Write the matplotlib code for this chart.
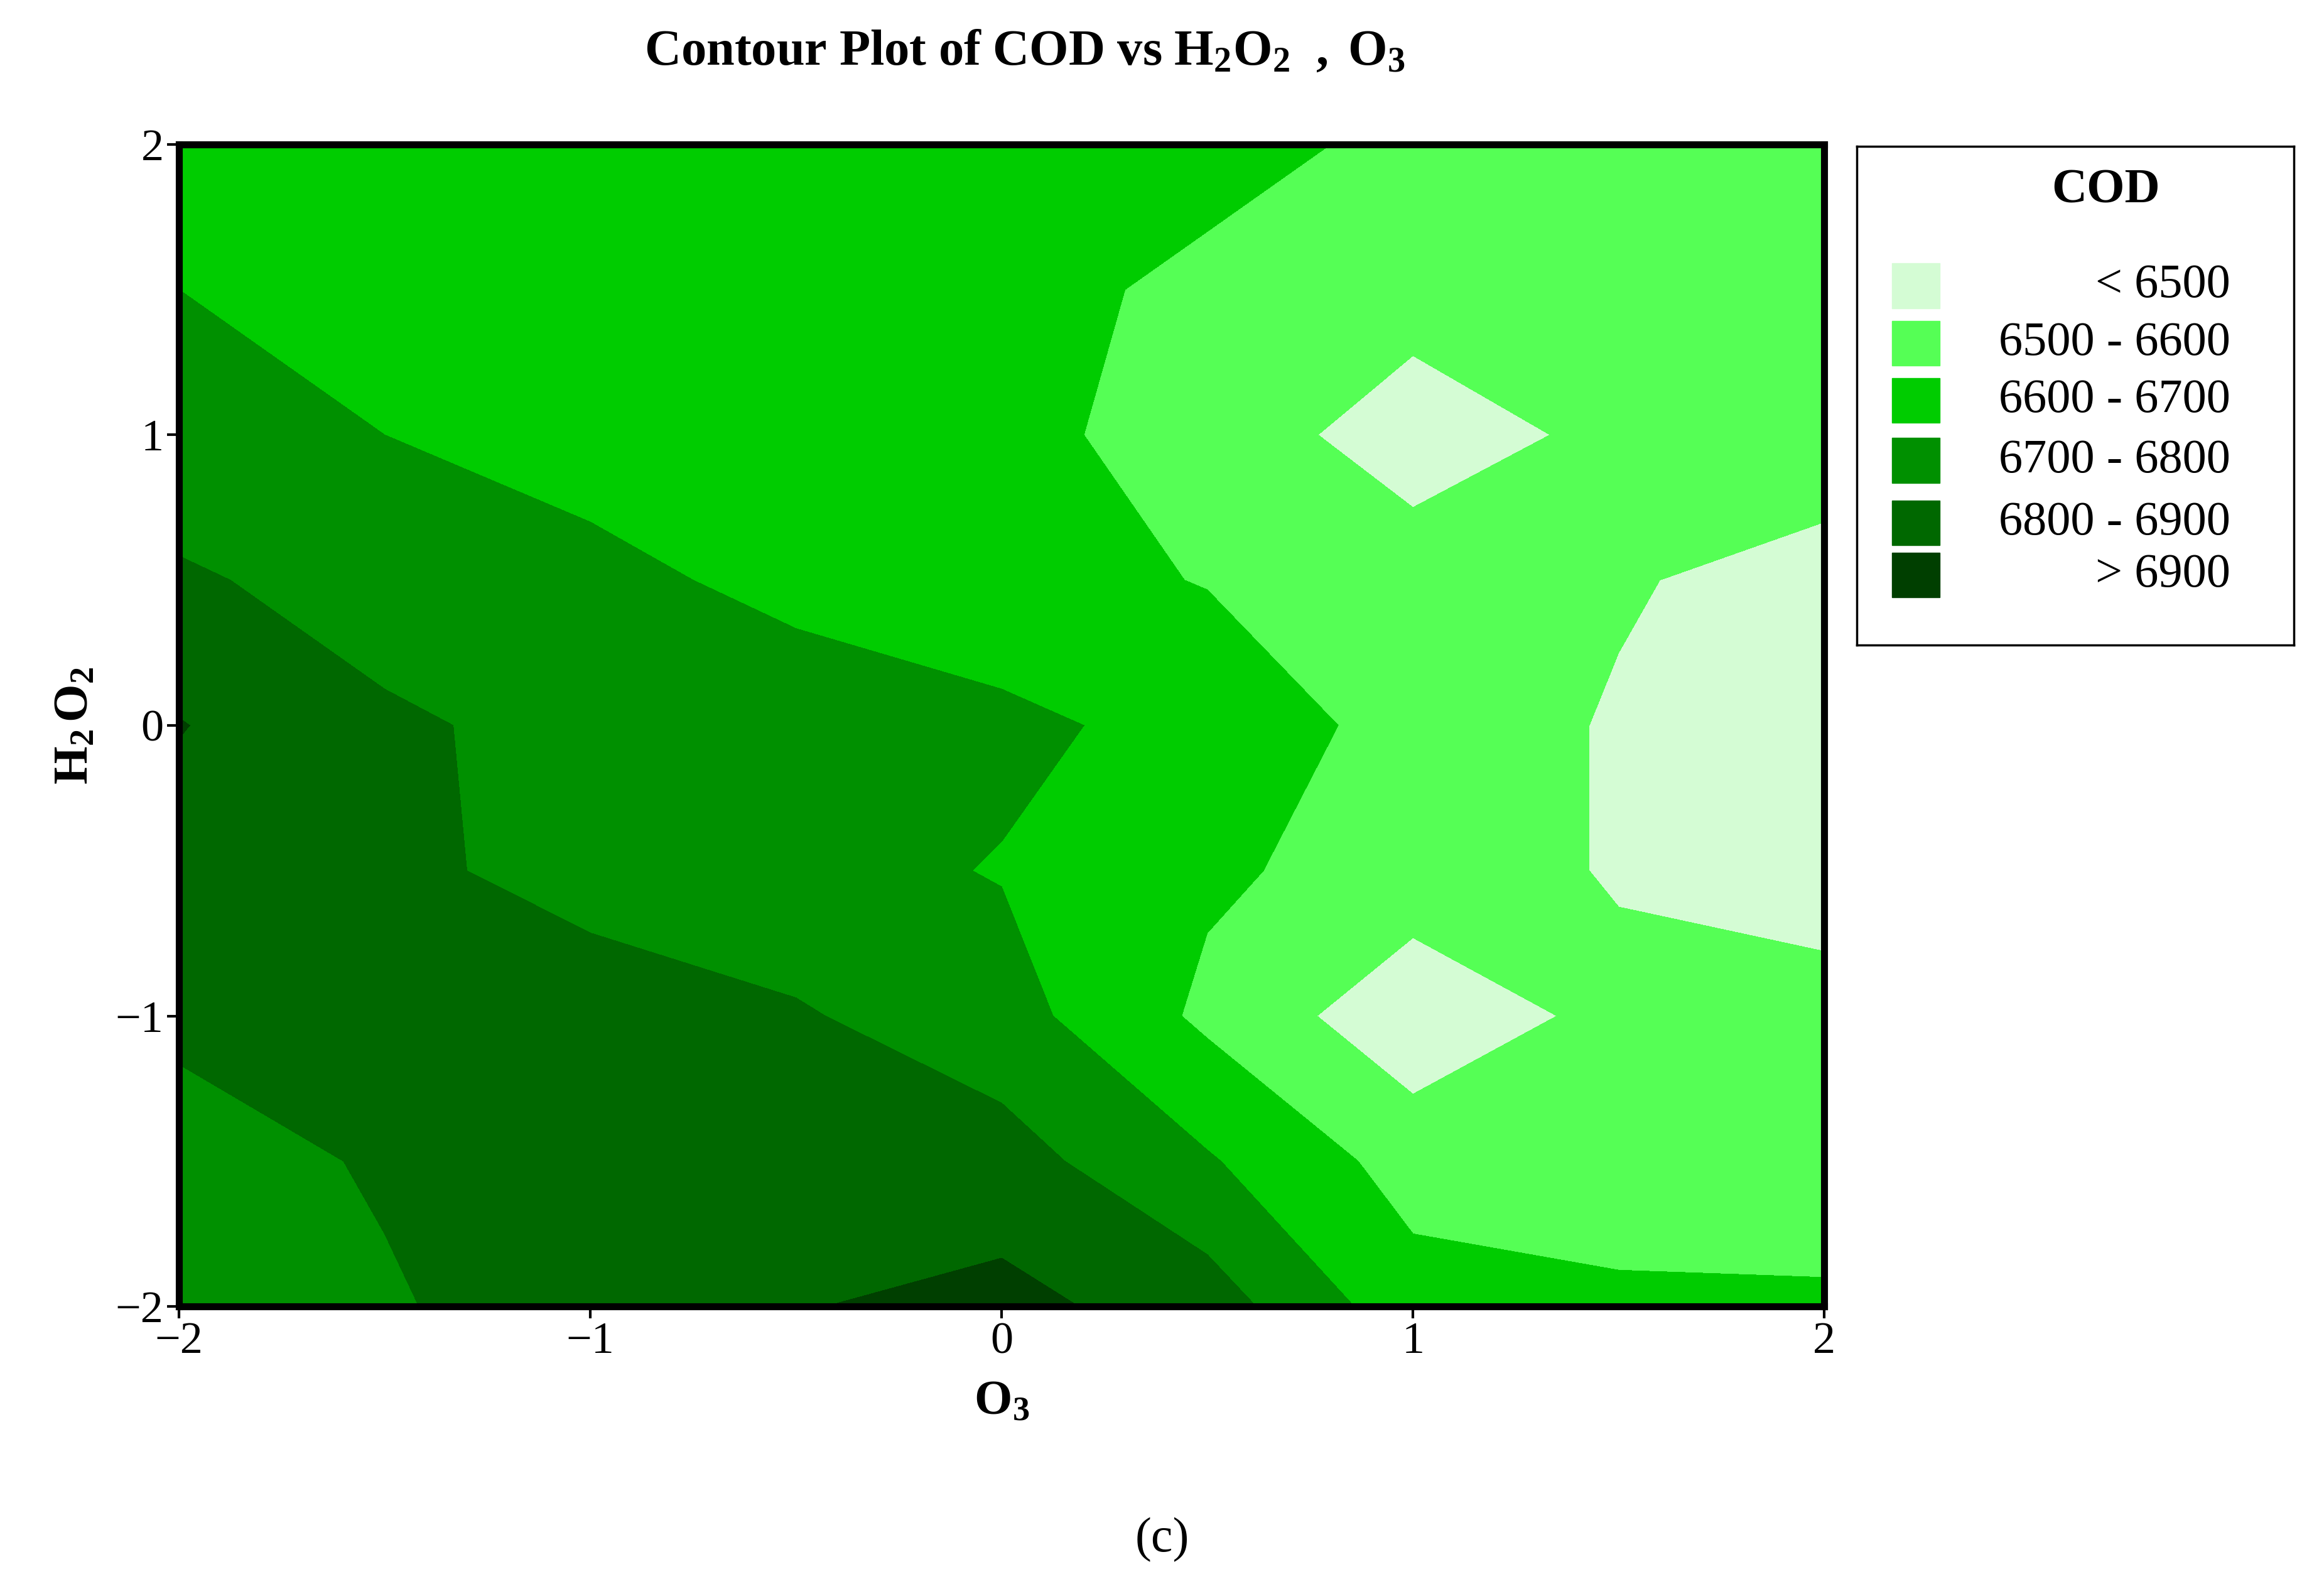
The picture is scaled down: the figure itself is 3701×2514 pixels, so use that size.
import numpy as np
import matplotlib
matplotlib.use("Agg")
import matplotlib.pyplot as plt
from matplotlib.patches import Rectangle

x_vals = [-2, -1.5, -1, -0.5, 0, 0.5, 1, 1.5, 2]
y_vals = [-2, -1.5, -1, -0.5, 0, 0.5, 1, 1.5, 2]
# COD estimates, rows from y=-2 (bottom) to y=2 (top)
cod_row_m20 = [6740, 6790, 6850, 6895, 6930, 6850, 6640, 6620, 6610]
cod_row_m15 = [6760, 6810, 6850, 6860, 6840, 6710, 6560, 6540, 6560]
cod_row_m10 = [6820, 6860, 6840, 6810, 6740, 6580, 6430, 6530, 6540]
cod_row_m05 = [6850, 6820, 6770, 6730, 6695, 6615, 6560, 6490, 6450]
cod_row_00 = [6905, 6810, 6780, 6740, 6720, 6670, 6560, 6490, 6440]
cod_row_05 = [6810, 6770, 6720, 6680, 6640, 6595, 6560, 6510, 6460]
cod_row_10 = [6750, 6700, 6670, 6650, 6620, 6570, 6440, 6530, 6560]
cod_row_15 = [6700, 6690, 6670, 6650, 6630, 6580, 6550, 6550, 6560]
cod_row_20 = [6690, 6680, 6670, 6660, 6650, 6630, 6580, 6560, 6560]

levels = [6000, 6500, 6600, 6700, 6800, 6900, 7500]
colors = ['#d4fcd4', '#55ff55', '#00cc00', '#009000', '#006800', '#003f00']
labels = ['< 6500', '6500 - 6600', '6600 - 6700', '6700 - 6800', '6800 - 6900', '> 6900']
ticks = [-2, -1, 0, 1, 2]

Z = np.array([cod_row_m20, cod_row_m15, cod_row_m10, cod_row_m05, cod_row_00,
              cod_row_05, cod_row_10, cod_row_15, cod_row_20])
X, Y = np.meshgrid(x_vals, y_vals)

plt.rcParams['font.family'] = ['Liberation Serif', 'DejaVu Serif']
plt.rcParams['mathtext.fontset'] = 'custom'
plt.rcParams['mathtext.rm'] = 'Liberation Serif'
plt.rcParams['mathtext.bf'] = 'Liberation Serif:bold'
plt.rcParams['mathtext.it'] = 'Liberation Serif:italic'
fig = plt.figure(figsize=(37.01, 25.14), dpi=100)
ax = fig.add_axes([0.077, 0.1726, 0.708, 0.736])
ax.contourf(X, Y, Z, levels=levels, colors=colors)
ax.set_xlim(-2, 2)
ax.set_ylim(-2, 2)
ax.set_xticks(ticks)
ax.set_yticks(ticks)
ax.set_xticklabels(['\u22122', '\u22121', '0', '1', '2'])
ax.set_yticklabels(['\u22122', '\u22121', '0', '1', '2'])
ax.tick_params(labelsize=52, length=14, width=3)
for s in ax.spines.values():
    s.set_linewidth(8)
ax.set_xlabel(r'$\mathbf{O_3}$', fontsize=56, labelpad=20)
ax.set_ylabel(r'$\mathbf{H_2\,O_2}$', fontsize=56, labelpad=20)
fig.text(0.441, 0.967, r'$\mathbf{Contour\ Plot\ of\ COD\ vs\ H_2O_2\ \ ,\ O_3}$', ha='center', va='center',
         fontsize=58)
fig.text(0.5, 0.025, '(c)', ha='center', va='center', fontsize=56)

lax = fig.add_axes([0.799, 0.5915, 0.188, 0.316])
lax.set_xlim(0, 1)
lax.set_ylim(0, 1)
lax.set_xticks([])
lax.set_yticks([])
for s in lax.spines.values():
    s.set_linewidth(2.5)
lax.text(0.57, 0.91, 'COD', ha='center', va='center', fontsize=56, fontweight='bold')
ys = [0.72, 0.605, 0.49, 0.37, 0.245, 0.14]
for yy, c, lab in zip(ys, colors, labels):
    lax.add_patch(Rectangle((0.08, yy - 0.045), 0.11, 0.09, color=c))
    lax.text(0.855, yy, lab, ha='right', va='center', fontsize=55)

fig.savefig('out.png', dpi=100)
